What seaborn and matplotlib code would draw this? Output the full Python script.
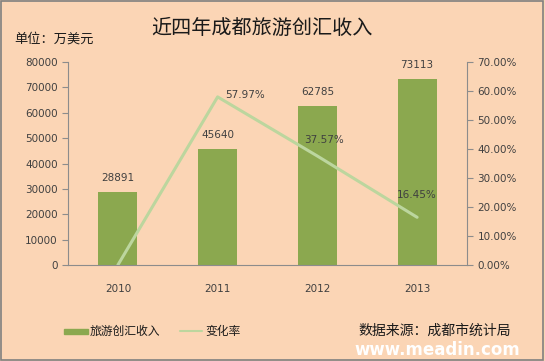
import matplotlib as mpl
import matplotlib.pyplot as plt
import seaborn as sns
import numpy as np
import pandas as pd
from matplotlib.ticker import FuncFormatter, FixedLocator
from matplotlib.patches import Rectangle

mpl.use('agg')

# Data
years = ['2010', '2011', '2012', '2013']
income = [28891, 45640, 62785, 73113]
rate = [0.0, 0.5797, 0.3757, 0.1645]
rate_labels = ['', '57.97%', '37.57%', '16.45%']

bg = '#FBD5B5'
bar_color = '#8BA84F'
line_color = '#BCD69E'
text_color = '#404040'
axis_color = '#8C8C8C'

sns.set_style('white')
plt.rcParams['font.family'] = ['Noto Sans CJK SC', 'DejaVu Sans']

df = pd.DataFrame({'year': years, 'income': income, 'rate': rate})

fig = plt.figure(figsize=(5.45, 3.61), dpi=100, facecolor=bg)
ax = fig.add_axes([68 / 545, 1 - 265 / 361, (467 - 68) / 545, (265 - 62) / 361])
ax.set_facecolor('none')

sns.barplot(data=df, x='year', y='income', color=bar_color, width=0.39,
            saturation=1, edgecolor='none', linewidth=0, ax=ax, zorder=2)
ax.set_ylim(0, 80000)
ax.set_yticks(np.arange(0, 80001, 10000))
ax.set_xlim(-0.5, 3.5)

# value labels above bars
for i, v in enumerate(income):
    ax.text(i, v + 3600, str(v), ha='center', va='bottom', fontsize=7.5,
            color=text_color, family='DejaVu Sans')

ax2 = ax.twinx()
ax2.set_facecolor('none')
sns.lineplot(x=np.arange(len(years)), y=df['rate'], ax=ax2, color=line_color,
             linewidth=2.2, zorder=3)
ax2.set_ylim(0, 0.7)
ax2.set_yticks(np.arange(0, 0.71, 0.1))
ax2.yaxis.set_major_formatter(FuncFormatter(lambda v, p: f'{v * 100:.2f}%'))
ax2.set_xlim(-0.5, 3.5)
ax2.set_ylabel('')

# rate labels (position offsets relative to each point)
label_pos = {1: (0.08, 0.005, 'left'), 2: (0.07, 0.055, 'center'), 3: (0.0, 0.077, 'center')}
for i, lab in enumerate(rate_labels):
    if lab:
        dx, dy, ha = label_pos[i]
        ax2.text(i + dx, rate[i] + dy, lab, ha=ha, va='center', fontsize=7.5,
                 color=text_color, family='DejaVu Sans')

for a in (ax, ax2):
    for s in a.spines.values():
        s.set_visible(False)
    a.tick_params(axis='y', labelsize=7.5, labelcolor=text_color, color=axis_color,
                  length=4, width=0.8, direction='out')
ax.spines['left'].set_visible(True)
ax.spines['left'].set_color(axis_color)
ax.spines['bottom'].set_visible(True)
ax.spines['bottom'].set_color(axis_color)
ax2.spines['right'].set_visible(True)
ax2.spines['right'].set_color(axis_color)

ax.set_xlabel('')
ax.set_ylabel('')
ax.tick_params(axis='x', which='major', length=0, labelsize=7.5, labelcolor=text_color, pad=14)
ax.xaxis.set_minor_locator(FixedLocator([-0.5, 0.5, 1.5, 2.5, 3.5]))
ax.tick_params(axis='x', which='minor', length=4, color=axis_color, width=0.8, direction='out')
ax.set_xticks(range(len(years)))
ax.set_xticklabels(years, family='DejaVu Sans')
for lbl in ax.get_yticklabels() + ax2.get_yticklabels():
    lbl.set_family('DejaVu Sans')

# titles and notes
fig.text(262 / 545, 1 - 29 / 361, '近四年成都旅游创汇收入', ha='center', va='center',
         fontsize=14.5, color='#1a1a1a')
fig.text(14 / 545, 1 - 39 / 361, '单位：万美元', ha='left', va='center',
         fontsize=9.5, color='#1a1a1a')
fig.text(511 / 545, 1 - 331 / 361, '数据来源：成都市统计局', ha='right', va='center',
         fontsize=10, color='#1a1a1a')
fig.text(520 / 545, 1 - 350 / 361, 'www.meadin.com', ha='right', va='center',
         fontsize=12, color='white', fontweight='bold', family='DejaVu Sans')

# legend
fig.patches.append(Rectangle((64 / 545, 1 - 334 / 361), 24 / 545, 5 / 361,
                             transform=fig.transFigure, color=bar_color))
fig.text(90 / 545, 1 - 331 / 361, '旅游创汇收入', ha='left', va='center',
         fontsize=8.5, color='#1a1a1a')
fig.lines.append(plt.Line2D([180 / 545, 202 / 545], [1 - 331 / 361, 1 - 331 / 361],
                            transform=fig.transFigure, color=line_color, linewidth=1.5))
fig.text(205 / 545, 1 - 331 / 361, '变化率', ha='left', va='center',
         fontsize=8.5, color='#1a1a1a')

# border
fig.patches.append(Rectangle((0.002, 0.003), 0.995, 0.993, transform=fig.transFigure,
                             fill=False, edgecolor='#808080', linewidth=1.2))

fig.savefig('out.png', dpi=100, facecolor=bg)
